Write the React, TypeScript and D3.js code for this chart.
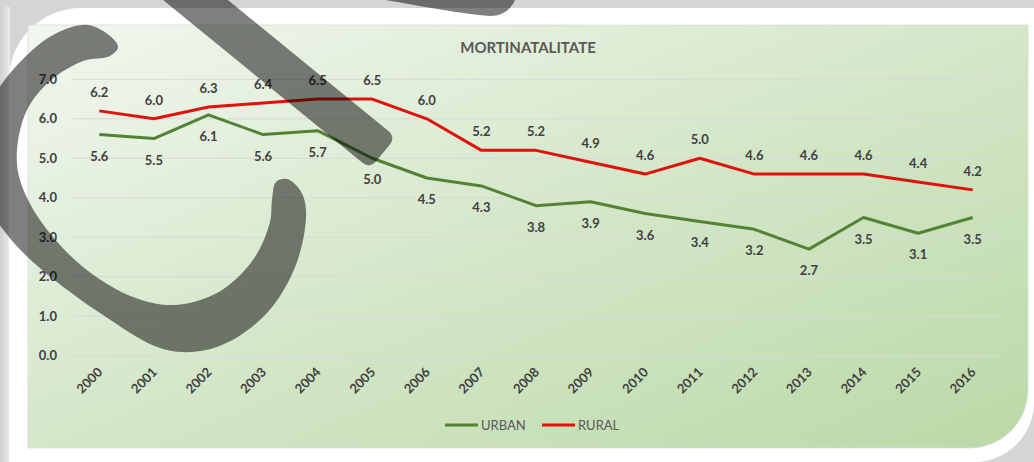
import React, { useEffect, useRef } from "react";
import * as d3 from "d3";

// data
const years = ["2000", "2001", "2002", "2003", "2004", "2005", "2006", "2007", "2008",
  "2009", "2010", "2011", "2012", "2013", "2014", "2015", "2016"];
const urban = [5.6, 5.5, 6.1, 5.6, 5.7, 5.0, 4.5, 4.3, 3.8, 3.9, 3.6, 3.4, 3.2, 2.7, 3.5, 3.1, 3.5];
const rural = [6.2, 6.0, 6.3, 6.4, 6.5, 6.5, 6.0, 5.2, 5.2, 4.9, 4.6, 5.0, 4.6, 4.6, 4.6, 4.4, 4.2];
const yTicks = [0, 1, 2, 3, 4, 5, 6, 7];
const seriesNames = ["URBAN", "RURAL"];
const seriesColors = ["#548235", "#e0120c"];
const title = "MORTINATALITATE";

const FONT = "Lato, 'Open Sans', sans-serif";

export default function App() {
  const ref = useRef<SVGSVGElement>(null);

  useEffect(() => {
    const svg = d3.select(ref.current);
    svg.selectAll("*").remove();

    const W = 1034;
    const H = 462;

    const defs = svg.append("defs");
    const grad = defs.append("linearGradient")
      .attr("id", "bgGrad")
      .attr("x1", 0).attr("y1", 0).attr("x2", 1).attr("y2", 1);
    grad.append("stop").attr("offset", 0).attr("stop-color", "#f2f7ef");
    grad.append("stop").attr("offset", 0.5).attr("stop-color", "#d4e7c9");
    grad.append("stop").attr("offset", 1).attr("stop-color", "#bbd9a7");

    const side = defs.append("linearGradient")
      .attr("id", "sideGrad")
      .attr("x1", 0).attr("y1", 0).attr("x2", 1).attr("y2", 0);
    side.append("stop").attr("offset", 0).attr("stop-color", "#cfcfcf");
    side.append("stop").attr("offset", 1).attr("stop-color", "#ececec");

    // page + white card
    svg.append("rect").attr("width", W).attr("height", H).attr("fill", "#d5d5d5");
    svg.append("rect").attr("x", 0).attr("y", 7).attr("width", 10).attr("height", H - 7)
      .attr("fill", "url(#sideGrad)");
    svg.append("path")
      .attr("d", "M9,80 A72,72 0 0 1 81,8 L1034,8 L1034,402 A60,60 0 0 1 974,462 L9,462 Z")
      .attr("fill", "#ffffff");

    // chart area
    const area = { x0: 28, y0: 25, x1: 1028, y1: 448, r: 58 };
    svg.append("path")
      .attr("d", `M${area.x0},${area.y0} L${area.x1},${area.y0} L${area.x1},${area.y1 - area.r}
        A${area.r},${area.r} 0 0 1 ${area.x1 - area.r},${area.y1} L${area.x0},${area.y1} Z`)
      .attr("fill", "url(#bgGrad)")
      .attr("stroke", "#dcdcdc")
      .attr("stroke-width", 0.8);

    // scales
    const xScale = d3.scaleBand<string>()
      .domain(years)
      .range([72, 1000]);
    const yScale = d3.scaleLinear()
      .domain([0, 7])
      .range([355.7, 79.3]);
    const cx = (d: string) => (xScale(d) as number) + xScale.bandwidth() / 2;

    // gridlines
    svg.append("g").selectAll("line")
      .data(yTicks)
      .enter()
      .append("line")
      .attr("x1", 72).attr("x2", 1000)
      .attr("y1", d => yScale(d)).attr("y2", d => yScale(d))
      .attr("stroke", "#d9d9d9")
      .attr("stroke-width", 1);

    // y labels
    svg.append("g").selectAll("text")
      .data(yTicks)
      .enter()
      .append("text")
      .attr("x", 57)
      .attr("y", d => yScale(d) + 4.6)
      .attr("text-anchor", "end")
      .attr("font-family", FONT)
      .attr("font-size", 13)
      .attr("font-weight", "bold")
      .attr("fill", "#404040")
      .text(d => d.toFixed(1));

    // x labels
    svg.append("g").selectAll("text")
      .data(years)
      .enter()
      .append("text")
      .attr("transform", d => `translate(${cx(d) + 4},${373}) rotate(-45)`)
      .attr("text-anchor", "end")
      .attr("font-family", FONT)
      .attr("font-size", 13)
      .attr("font-weight", "bold")
      .attr("fill", "#404040")
      .text(d => d);

    // title
    svg.append("text")
      .attr("x", 528)
      .attr("y", 53)
      .attr("text-anchor", "middle")
      .attr("font-family", FONT)
      .attr("font-size", 15)
      .attr("font-weight", "bold")
      .attr("fill", "#595959")
      .text(title);

    // lines
    const series = [urban, rural];
    const line = d3.line<number>()
      .x((d, i) => cx(years[i]))
      .y(d => yScale(d));

    series.forEach((vals, s) => {
      svg.append("path")
        .datum(vals)
        .attr("d", line)
        .attr("fill", "none")
        .attr("stroke", seriesColors[s])
        .attr("stroke-width", 3)
        .attr("stroke-linejoin", "round");
    });

    // data labels: rural above, urban below
    series.forEach((vals, s) => {
      svg.append("g").selectAll("text")
        .data(vals)
        .enter()
        .append("text")
        .attr("x", (d, i) => cx(years[i]))
        .attr("y", d => s === 0 ? yScale(d) + 26 : yScale(d) - 14)
        .attr("text-anchor", "middle")
        .attr("font-family", FONT)
        .attr("font-size", 13)
        .attr("font-weight", "bold")
        .attr("fill", "#404040")
        .text(d => d.toFixed(1));
    });

    // legend
    const legendX = [445, 542];
    seriesNames.forEach((name, s) => {
      svg.append("line")
        .attr("x1", legendX[s]).attr("x2", legendX[s] + 33)
        .attr("y1", 425).attr("y2", 425)
        .attr("stroke", seriesColors[s])
        .attr("stroke-width", 3);
      svg.append("text")
        .attr("x", legendX[s] + 36)
        .attr("y", 429.5)
        .attr("font-family", FONT)
        .attr("font-size", 13)
        .attr("fill", "#595959")
        .text(name);
    });

    // pen strokes drawn over the picture
    const ink = svg.append("g").attr("fill", "#000000").attr("fill-opacity", 0.5);

    const crescent: [number, number][] = [
      [118, 47], [110, 36], [88, 25], [55, 34], [22, 60], [-8, 100], [-22, 150], [-15, 200],
      [5, 232], [33, 262], [100, 313], [167, 350], [217, 347], [267, 313], [297, 262],
      [306, 210], [300, 190], [287, 179], [276, 182], [272, 200], [270, 222], [253, 260],
      [217, 293], [173, 305], [133, 297], [83, 267], [40, 220], [20, 180], [17, 150],
      [27, 110], [50, 81], [83, 61], [110, 56]
    ];
    ink.append("path")
      .attr("d", d3.line().curve(d3.curveCatmullRomClosed.alpha(0.5))(crescent));

    ink.append("rect")
      .attr("x", -40).attr("y", -20.5)
      .attr("width", 282).attr("height", 41)
      .attr("rx", 9)
      .attr("transform", "translate(195.5,0) rotate(39.2)");

    ink.append("path")
      .attr("d", "M386,0 C420,6 462,14 490,16 C503,16 511,9 515,0 Z");
  }, []);

  return (
    <svg ref={ref} width={1034} height={462}
      style={{ position: "fixed", left: 0, top: 0, display: "block" }} />
  );
}
